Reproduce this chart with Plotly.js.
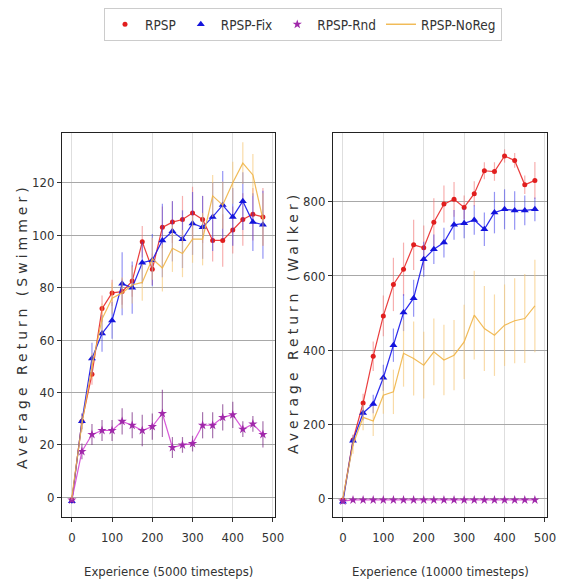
<!DOCTYPE html>
<html>
<head>
<meta charset="utf-8">
<script src="https://cdn.plot.ly/plotly-3.0.1.min.js"></script>
<style>
html,body{margin:0;padding:0;background:#fff;}
#chart{width:561px;height:581px;}
</style>
</head>
<body>
<div id="chart"></div>
<script>
// ---- data ----
var steps = [0, 25, 50, 75, 100, 125, 150, 175, 200, 225, 250, 275, 300, 325, 350, 375, 400, 425, 450, 475];

// Swimmer
var rpspSwim    = [-1, 29, 47, 72, 78, 78.5, 82.5, 97.5, 87, 103, 105, 106, 108.5, 106, 98, 98, 102, 106, 108, 107];
var rpspSwimErr = [1, 3, 4, 5, 5, 5, 6, 6, 6, 8, 8, 9, 10, 9, 8, 10, 9, 10, 10, 11];
var fixSwim     = [-1.5, 29, 53, 62.5, 67.5, 81.5, 80, 89.5, 90.5, 98, 101.5, 98.5, 104.5, 103, 107, 111.5, 107, 113, 105, 104];
var fixSwimErr  = [1, 3, 6, 7, 7, 12, 10, 8, 10, 14, 11.5, 11, 12, 12, 13, 13, 11, 11, 11, 13];
var rndSwim     = [-1, 17.5, 24, 25.5, 25.5, 29, 27.5, 25.5, 27, 32, 19, 20, 20.5, 27.5, 27.5, 30.5, 31.5, 26, 28, 24];
var rndSwimErr  = [1, 3, 4, 4, 4, 5, 5, 6, 5, 9, 4, 3, 3, 5, 5, 5, 5, 3, 3, 5];
var noregSwim    = [0, 28, 50, 68, 76, 78, 81, 82, 91, 87.5, 95, 93, 98.5, 98.5, 115, 111.5, 120, 127.5, 123, 106];
var noregSwimErr = [1, 3, 5, 6, 6, 6, 7, 7, 8, 9, 9, 9, 9, 10, 8, 9, 8, 8, 8, 10];

// Walker
var rpspWalk    = [-5, 157, 257, 383, 492, 577, 618, 684, 676, 745, 794, 807, 785, 822, 884, 882, 924, 912, 846, 858];
var rpspWalkErr = [3, 15, 25, 40, 55, 72, 72, 68, 60, 65, 50, 47, 32, 34, 23, 25, 18, 20, 25, 50];
var fixWalk     = [-10, 155, 230, 254, 325, 413, 501, 540, 645, 672, 690, 738, 742, 751, 726, 771, 780, 777, 777, 780];
var fixWalkErr  = [3, 15, 20, 25, 35, 45, 50, 50, 47, 40, 40, 40, 40, 40, 45, 56, 54, 52, 40, 32];
var rndWalk     = [-8, -5, -5, -5, -5, -5, -5, -5, -5, -5, -5, -5, -5, -5, -5, -5, -5, -5, -5, -5];
var rndWalkErr  = [2, 2, 2, 2, 2, 2, 2, 2, 2, 2, 2, 2, 2, 2, 2, 2, 2, 2, 2, 2];
var noregWalk    = [0, 145, 218, 208, 278, 287, 391, 377, 359, 395, 373, 386, 422, 494, 458, 440, 467, 479, 485, 519];
var noregWalkErr = [3, 25, 35, 40, 50, 60, 90, 100, 90, 90, 95, 95, 100, 120, 115, 110, 110, 115, 120, 125];

var seriesNames = ['RPSP', 'RPSP-Fix', 'RPSP-Rnd', 'RPSP-NoReg'];
var xTickVals = [0, 100, 200, 300, 400, 500];

// ---- styles ----
var S = {
  'RPSP':       {line:'rgba(232,40,40,0.9)',  marker:'rgb(225,30,30)',  err:'rgba(240,110,110,0.55)', symbol:'circle', size:5, mode:'lines+markers'},
  'RPSP-Fix':   {line:'rgba(20,20,235,0.9)',  marker:'rgb(20,20,220)',  err:'rgba(60,60,235,0.55)',  symbol:'triangle-up', size:7, mode:'lines+markers'},
  'RPSP-Rnd':   {line:'rgba(210,60,210,0.85)',marker:'rgb(160,40,170)', err:'rgba(120,40,130,0.65)', symbol:'star', size:7, mode:'lines+markers'},
  'RPSP-NoReg': {line:'rgba(240,180,70,0.9)', marker:'rgb(240,180,70)', err:'rgba(245,195,110,0.6)', symbol:'circle', size:0, mode:'lines'}
};

function mk(name, y, e, xa, ya){
  var s = S[name];
  var t = {
    type:'scatter', x: steps, y: y, name: name, mode: s.mode,
    xaxis: xa, yaxis: ya, showlegend:false, cliponaxis:false,
    line:{color:s.line, width:1.2},
    error_y:{type:'data', array:e, visible:true, color:s.err, thickness:1.2, width:0}
  };
  if (s.mode !== 'lines') t.marker = {color:s.marker, symbol:s.symbol, size:s.size, line:{width:0}};
  return t;
}

var data = [
  mk('RPSP', rpspSwim, rpspSwimErr, 'x', 'y'),
  mk('RPSP-Fix', fixSwim, fixSwimErr, 'x', 'y'),
  mk('RPSP-Rnd', rndSwim, rndSwimErr, 'x', 'y'),
  mk('RPSP-NoReg', noregSwim, noregSwimErr, 'x', 'y'),
  mk('RPSP', rpspWalk, rpspWalkErr, 'x2', 'y2'),
  mk('RPSP-Fix', fixWalk, fixWalkErr, 'x2', 'y2'),
  mk('RPSP-Rnd', rndWalk, rndWalkErr, 'x2', 'y2'),
  mk('RPSP-NoReg', noregWalk, noregWalkErr, 'x2', 'y2')
];
// legend entries (marker-only for the first three, line for NoReg)
seriesNames.forEach(function(n){
  var s = S[n];
  var t = {type:'scatter', x:[null], y:[null], name:n, showlegend:true, xaxis:'x', yaxis:'y'};
  if (n === 'RPSP-NoReg') { t.mode = 'lines'; t.line = {color:s.line, width:1.5}; }
  else { t.mode = 'markers'; t.marker = {color:s.marker, symbol:s.symbol, size:s.size}; }
  data.push(t);
});

var narrow = '"Liberation Sans Narrow", "DejaVu Sans Condensed", "Arial Narrow", sans-serif';
var tickFont = {family:narrow, size:13, color:'#333'};
var W = 561, H = 581;
function px(v){ return v / W; }
function py(v){ return 1 - v / H; }

function xax(dom){
  return {domain:dom, range:[-24.5, 505], tickvals:xTickVals, ticks:'outside', ticklen:4, tickcolor:'#333',
          showline:true, linecolor:'#222', linewidth:1, mirror:true,
          showgrid:true, gridcolor:'#dedede', gridwidth:1, zeroline:false, tickfont:tickFont, ticklabelstandoff:4};
}
function yax(dom, rng, dt, xa){
  return {domain:dom, range:rng, dtick:dt, tick0:0, ticks:'outside', ticklen:4, tickcolor:'#333',
          showline:true, linecolor:'#222', linewidth:1, mirror:true, anchor:xa,
          showgrid:true, gridcolor:'#a8a8a8', gridwidth:1, zeroline:false, tickfont:tickFont};
}
var yDom = [py(517), py(133)];

var titleFontX = {family:narrow, size:13, color:'#333'};
var titleFontY = {family:'"DejaVu Sans", sans-serif', size:14, color:'#333'};

var layout = {
  width: W, height: H,
  margin:{l:0, r:0, t:0, b:0},
  paper_bgcolor:'#fff', plot_bgcolor:'#fff',
  showlegend:true,
  legend:{orientation:'h', x:px(303), xanchor:'center', y:py(8), yanchor:'top',
          bordercolor:'#cccccc', borderwidth:1, bgcolor:'#fff',
          font:{family:narrow, size:13.5, color:'#333'},
          itemwidth:30, tracegroupgap:0},
  xaxis: Object.assign(xax([px(62), px(275)]), {anchor:'y'}),
  yaxis: yax(yDom, [-7.5, 139], 20, 'x'),
  xaxis2: Object.assign(xax([px(333), px(547)]), {anchor:'y2'}),
  yaxis2: yax(yDom, [-51, 986], 200, 'x2'),
  annotations:[
    {text:'Experience (5000 timesteps)', xref:'paper', yref:'paper', x:px(168), y:py(571), showarrow:false, font:titleFontX, xanchor:'center', yanchor:'middle'},
    {text:'Experience (10000 timesteps)', xref:'paper', yref:'paper', x:px(440), y:py(571), showarrow:false, font:titleFontX, xanchor:'center', yanchor:'middle'},
    {text:'Average Return (Swimmer)', xref:'paper', yref:'paper', x:px(22), y:py(326), showarrow:false, textangle:-90, font:titleFontY, xanchor:'center', yanchor:'middle'},
    {text:'Average Return (Walker)', xref:'paper', yref:'paper', x:px(293), y:py(323), showarrow:false, textangle:-90, font:titleFontY, xanchor:'center', yanchor:'middle'}
  ]
};

Plotly.newPlot('chart', data, layout, {displayModeBar:false, staticPlot:true}).then(function(){
  document.querySelectorAll('.annotation-text').forEach(function(el){
    if (el.textContent.indexOf('Average') === 0) el.style.letterSpacing = '4px';
  });
});
</script>
</body>
</html>
